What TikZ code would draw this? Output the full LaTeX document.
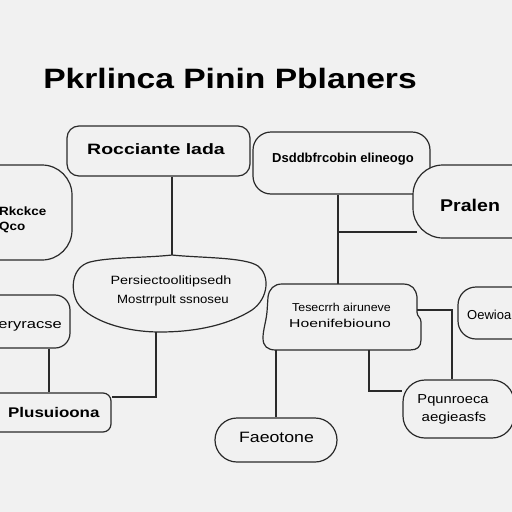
\documentclass[tikz,border=0pt]{standalone}
\usepackage{fontspec}
\setmainfont{Liberation Sans}
\definecolor{bgc}{HTML}{F1F1F1}
\definecolor{linec}{HTML}{2A2A2A}
\tikzset{
  box/.style={draw=linec, line width=1.2pt, fill=bgc, rectangle, inner sep=0pt},
  ghost/.style={rectangle, inner sep=0pt},
  blob/.style={draw=linec, line width=1.2pt, fill=bgc, line join=round},
  conn/.style={draw=linec, line width=1.2pt},
  lbl/.style={text=black, inner sep=0pt, align=center},
}
\newcommand{\sx}[2]{\scalebox{#1}[1]{#2}}
\begin{document}
\begin{tikzpicture}[x=1pt,y=-1pt]
\fill[bgc] (0,0) rectangle (512,512);
\useasboundingbox (0,0) rectangle (512,512);
\clip (0,0) rectangle (512,512);
% title
\node[lbl, font=\fontsize{28}{30}\selectfont\bfseries] (title) at (230,78) {\sx{1.2}{Pkrlinca Pinin Pblaners}};
% helper coordinates
\coordinate (c1) at (172,0);
\coordinate (c2) at (338,232);
\coordinate (c4) at (156,397);
\coordinate (c6) at (49,0);
\coordinate (c7) at (369,391);
\coordinate (c9) at (452,310);
% boxes
\node[box, minimum width=183pt, minimum height=50pt, rounded corners=12pt] (rocc) at (158.5,151) {};
\node[box, minimum width=102pt, minimum height=95pt, rounded corners=30pt] (lefta) at (21,212.5) {};
\node[box, minimum width=177pt, minimum height=62pt, rounded corners=18pt] (dsdd) at (341.5,163) {};
\node[ghost, minimum width=187pt, minimum height=77pt] (pers) at (166.5,293.5) {};
\draw[blob] (172,255) .. controls (200,258) and (245,257) .. (258,266)
  .. controls (270,275) and (269,298) .. (252,310)
  .. controls (225,327) and (190,332) .. (160,332)
  .. controls (120,332) and (86,318) .. (77,302)
  .. controls (70,288) and (72,267) .. (90,262)
  .. controls (110,257) and (145,258) .. (172,255) -- cycle;
\node[box, minimum width=100pt, minimum height=53pt, rounded corners=15pt] (leftb) at (20,321.5) {};
\node[box, minimum width=131pt, minimum height=39pt, rounded corners=8pt] (plus) at (45.5,412.5) {};
\node[ghost, minimum width=155pt, minimum height=66pt] (tese) at (339.5,317) {};
\draw[blob] (282,284) -- (403,284) .. controls (412,284) and (416,289) .. (417,297)
  -- (417,312) .. controls (417,317) and (421,317) .. (421,322)
  -- (421,340) .. controls (421,347) and (417,350) .. (410,350)
  -- (276,350) .. controls (267,350) and (263,346) .. (263,338)
  .. controls (263,330) and (266,322) .. (267,312)
  -- (268,297) .. controls (269,289) and (274,284) .. (282,284) -- cycle;
\node[box, minimum width=111pt, minimum height=58pt, rounded corners=22pt] (pqun) at (458.5,409) {};
\node[box, minimum width=122pt, minimum height=44pt, rounded corners=22pt] (faeo) at (276,440) {};
% connectors
\draw[conn] (rocc.south -| c1) -- (pers.north -| c1);
\draw[conn] (dsdd.south -| c2) -- (tese.north -| c2);
\draw[conn] (c2) -- (417,232) coordinate (pralin);
\draw[conn] (pers.south -| c4) |- (plus.east |- c4);
\draw[conn] (leftb.south -| c6) -- (plus.north -| c6);
\draw[conn] (tese.south -| faeo.north) -- (faeo.north);
\draw[conn] (tese.south -| c7) |- (pqun.west |- c7);
\draw[conn] (tese.east |- c9) -| (pqun.north -| c9);
% right side nodes drawn over connector end
\node[box, minimum width=147pt, minimum height=73pt, rounded corners=30pt] (pral) at (486.5,201.5) {};
\node[box, minimum width=102pt, minimum height=52pt, rounded corners=18pt] (oewi) at (509,313) {};
% texts
\node[lbl, font=\fontsize{15}{17}\selectfont\bfseries] (roccT) at (156,149) {\sx{1.3}{Rocciante lada}};
\node[lbl, font=\fontsize{12}{16}\selectfont\bfseries, anchor=west] (leftaT1) at (-1,211) {\sx{1.12}{Rkckce}};
\node[lbl, font=\fontsize{12}{16}\selectfont\bfseries, anchor=west] (leftaT2) at (-1,227) {\sx{1.12}{Qco}};
\node[lbl, font=\fontsize{13}{15}\selectfont\bfseries] (dsddT) at (343,159) {Dsddbfrcobin elineogo};
\node[lbl, font=\fontsize{17}{19}\selectfont\bfseries, anchor=west] (pralT) at (440,205) {\sx{1.15}{Pralen}};
\node[lbl, font=\fontsize{12}{14}\selectfont] (persT1) at (171,281) {\sx{1.2}{Persiectoolitipsedh}};
\node[lbl, font=\fontsize{12}{14}\selectfont] (persT2) at (173,300) {\sx{1.1}{Mostrrpult ssnoseu}};
\node[lbl, font=\fontsize{13}{15}\selectfont, anchor=east] (leftbT) at (62,326) {\sx{1.27}{eryracse}};
\node[lbl, font=\fontsize{14}{16}\selectfont\bfseries, anchor=west] (plusT) at (8,412) {\sx{1.21}{Plusuioona}};
\node[lbl, font=\fontsize{11.5}{14}\selectfont] (teseT1) at (341.5,307) {\sx{1.08}{Tesecrrh airuneve}};
\node[lbl, font=\fontsize{11.5}{14}\selectfont] (teseT2) at (340,323) {\sx{1.37}{Hoenifebiouno}};
\node[lbl, font=\fontsize{13}{15}\selectfont, anchor=west] (oewiT) at (467,315) {Oewioa};
\node[lbl, font=\fontsize{13}{15}\selectfont] (pqunT1) at (453,400) {\sx{1.13}{Pqunroeca}};
\node[lbl, font=\fontsize{13}{15}\selectfont] (pqunT2) at (454,418) {\sx{1.16}{aegieasfs}};
\node[lbl, font=\fontsize{15}{17}\selectfont] (faeoT) at (276.5,437) {\sx{1.18}{Faeotone}};
\end{tikzpicture}
\end{document}
